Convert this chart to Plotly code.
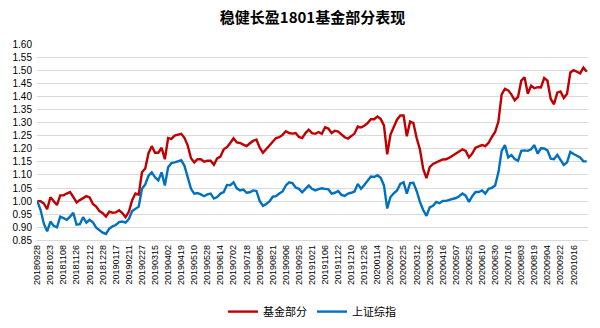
import plotly.graph_objects as go

title = "稳健长盈1801基金部分表现"
series_names = ["基金部分", "上证综指"]
colors = ["#C00000", "#0070C0"]

tick_labels = [
    "20180928", "20181023", "20181108", "20181126", "20181212", "20181228",
    "20190117", "20190211", "20190227", "20190315", "20190402", "20190419",
    "20190510", "20190528", "20190614", "20190702", "20190718", "20190805",
    "20190821", "20190906", "20190925", "20191021", "20191106", "20191122",
    "20191210", "20191226", "20200114", "20200207", "20200225", "20200312",
    "20200330", "20200416", "20200507", "20200525", "20200610", "20200630",
    "20200716", "20200803", "20200819", "20200904", "20200922", "20201016",
]
TRADING_DAYS_PER_TICK = 12
SAMPLE_STEP = 3  # values below are read every 3 trading days

fund = [
    1.000, 1.000, 0.991, 0.969, 1.015, 1.000, 0.985, 1.022, 1.022, 1.029,
    1.035, 1.016, 0.995, 1.004, 1.012, 1.019, 1.014, 0.989, 0.979, 0.962,
    0.954, 0.941, 0.960, 0.956, 0.957, 0.965, 0.954, 0.939, 0.960, 1.004,
    1.029, 1.025, 1.110, 1.125, 1.183, 1.210, 1.185, 1.185, 1.204, 1.160,
    1.241, 1.238, 1.250,
    1.254, 1.257, 1.242, 1.212, 1.164, 1.148, 1.160, 1.160, 1.151, 1.154,
    1.154, 1.139, 1.163, 1.170, 1.198, 1.206, 1.222, 1.240, 1.224, 1.222,
    1.216, 1.210, 1.221, 1.230, 1.235, 1.204, 1.185, 1.198, 1.212, 1.228,
    1.241, 1.244, 1.253, 1.267, 1.260, 1.258, 1.260, 1.245, 1.241, 1.260,
    1.273, 1.260,
    1.257, 1.264, 1.257, 1.282, 1.277, 1.260, 1.269, 1.266, 1.255, 1.244,
    1.239, 1.249, 1.258, 1.285, 1.281, 1.288, 1.298, 1.313, 1.313, 1.323,
    1.314, 1.289, 1.179, 1.254, 1.282, 1.311, 1.327, 1.327, 1.248, 1.304,
    1.298, 1.241, 1.198, 1.123, 1.088, 1.130, 1.142, 1.149, 1.154, 1.159,
    1.160, 1.166, 1.175,
    1.183, 1.190, 1.198, 1.192, 1.167, 1.182, 1.204, 1.208, 1.214, 1.210,
    1.223, 1.245, 1.264, 1.304, 1.408, 1.429, 1.423, 1.407, 1.385, 1.398,
    1.460, 1.473, 1.410, 1.441, 1.431, 1.435, 1.434, 1.470, 1.460, 1.390,
    1.370, 1.414, 1.419, 1.394, 1.410, 1.491, 1.500, 1.494, 1.488, 1.510,
    1.494,
]

index_sh = [
    1.000, 0.966, 0.914, 0.885, 0.922, 0.906, 0.900, 0.941, 0.935, 0.929,
    0.941, 0.956, 0.910, 0.912, 0.939, 0.918, 0.929, 0.919, 0.899, 0.889,
    0.880, 0.875, 0.895, 0.904, 0.909, 0.920, 0.922, 0.918, 0.932, 0.962,
    0.969, 0.979, 1.047, 1.064, 1.097, 1.110, 1.091, 1.079, 1.110, 1.060,
    1.129, 1.145, 1.148,
    1.151, 1.156, 1.135, 1.094, 1.047, 1.029, 1.031, 1.026, 1.019, 1.026,
    1.029, 1.010, 1.016, 1.029, 1.035, 1.062, 1.061, 1.072, 1.049, 1.041,
    1.044, 1.032, 1.034, 1.041, 1.039, 1.001, 0.982, 0.989, 0.999, 1.017,
    1.019, 1.029, 1.037, 1.060, 1.072, 1.069, 1.052, 1.047, 1.034, 1.047,
    1.060, 1.047,
    1.041, 1.046, 1.049, 1.047, 1.045, 1.029, 1.032, 1.039, 1.024, 1.020,
    1.029, 1.032, 1.037, 1.066, 1.047, 1.062, 1.080, 1.094, 1.092, 1.099,
    1.089, 1.060, 0.972, 1.016, 1.030, 1.041, 1.066, 1.072, 1.029, 1.069,
    1.070, 1.039, 0.997, 0.966, 0.944, 0.976, 0.982, 0.997, 0.992, 1.001,
    1.001, 1.005, 1.007,
    1.012, 1.019, 1.029, 1.021, 0.997, 1.019, 1.035, 1.035, 1.041, 1.029,
    1.047, 1.051, 1.060, 1.110, 1.192, 1.214, 1.167, 1.176, 1.161, 1.154,
    1.192, 1.194, 1.192, 1.198, 1.214, 1.182, 1.202, 1.201, 1.194, 1.162,
    1.160, 1.177, 1.159, 1.138, 1.148, 1.188, 1.180, 1.172, 1.167, 1.152,
    1.152,
]

sample_day = [i * SAMPLE_STEP for i in range(len(fund))]
tick_days = [i * TRADING_DAYS_PER_TICK for i in range(len(tick_labels))]

fig = go.Figure()
for name, vals, col in zip(series_names, [fund, index_sh], colors):
    fig.add_trace(go.Scatter(
        x=sample_day, y=vals, mode="lines", name=name,
        line=dict(color=col, width=2.4),
    ))

fig.update_layout(
    width=600, height=328,
    margin=dict(l=37, r=12, t=44, b=83),
    paper_bgcolor="white", plot_bgcolor="white",
    title=dict(text="<b>" + title + "</b>", x=0.5, xref="paper", xanchor="center",
               y=0.945, yref="container", yanchor="middle",
               font=dict(family="Noto Sans CJK SC", size=15, color="#000000")),
    showlegend=True,
    legend=dict(orientation="h", xref="container", yref="container",
                x=0.52, xanchor="center", y=0.05, yanchor="middle",
                font=dict(family="Noto Sans CJK SC", size=11, color="#000000"),
                itemwidth=30, bgcolor="rgba(0,0,0,0)"),
    font=dict(family="Liberation Sans", color="#000000"),
)
fig.update_xaxes(
    range=[-0.3, 505.2], tickmode="array", tickvals=tick_days, ticktext=tick_labels,
    tickangle=-90, tickfont=dict(size=9, family="Liberation Sans", color="#000000"),
    showgrid=False, zeroline=False, showline=True, linecolor="#d9d9d9", linewidth=1,
    ticks="",
)
fig.update_yaxes(
    range=[0.85, 1.60], dtick=0.05, tick0=0.85, tickformat=".2f",
    tickfont=dict(size=10, family="Liberation Sans", color="#000000"),
    showgrid=True, gridcolor="#d9d9d9", gridwidth=1, zeroline=False,
    showline=False, ticks="", ticklabelstandoff=4,
)

fig.write_html("out.html")
